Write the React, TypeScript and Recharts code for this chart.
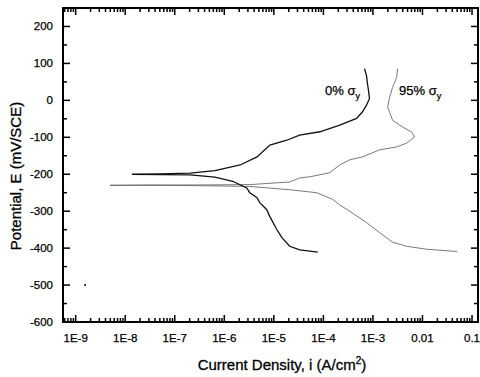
import React from 'react';
import { ComposedChart, Line, XAxis, YAxis } from 'recharts';

const FONT = "'Liberation Sans', Arial, Helvetica, sans-serif";

// 0% sigma_y curve: cathodic end -> corrosion potential -> anodic top (A/cm^2, mV/SCE)
const current0 = [
  7.67e-5, 3.33e-5, 2.09e-5, 1.44e-5, 1.14e-5, 8.26e-6, 7.19e-6, 5.2e-6, 4.52e-6, 3.27e-6,
  2.84e-6, 1.48e-6, 6.46e-7, 2.04e-7, 5.0e-8, 1.36e-8,
  5.0e-8, 2.04e-7, 6.46e-7, 2.09e-6, 4.57e-6, 8.32e-6, 1.82e-5, 3.31e-5, 8.51e-5, 2.14e-4,
  4.68e-4, 6.17e-4, 7.41e-4, 8.51e-4, 8.13e-4, 7.76e-4, 7.41e-4, 6.76e-4,
];
const potential0 = [
  -411, -405, -395, -371, -349, -314, -296, -277, -263, -250,
  -237, -219, -208, -202, -201, -200,
  -199, -197, -190, -175, -153, -121, -108, -94, -85, -67,
  -49, -31, -13, 5, 27, 45, 67, 86,
];

// 95% sigma_y curve
const current95 = [
  0.051, 0.0488, 0.0121, 4.77e-3, 2.49e-3, 1.36e-3, 7.46e-4, 3.39e-4, 2.13e-4, 1.54e-4,
  7.33e-5, 2.09e-5, 3.27e-6, 3.24e-7, 3.16e-8, 4.94e-9,
  3.16e-8, 3.24e-7, 3.31e-6, 2.09e-5, 3.33e-5, 5.3e-5, 1.34e-4, 2.13e-4, 3.39e-4, 6.19e-4,
  1.36e-3, 3.01e-3, 4.77e-3, 6.92e-3, 6.03e-3, 3.97e-3, 2.49e-3, 2.17e-3, 1.98e-3, 2.17e-3,
  2.49e-3, 3.01e-3, 3.15e-3,
];
const potential95 = [
  -411, -409, -403, -395, -384, -358, -331, -300, -283, -268,
  -250, -242, -233, -231, -230, -230,
  -229, -229, -228, -221, -210, -207, -196, -175, -161, -153,
  -134, -126, -116, -99, -86, -72, -54, -32, -18, 8,
  35, 62, 86,
];

// stray point near the left axis
const strayCurrent = [1.55e-9];
const strayPotential = [-500];

const xMajorTicks = [1e-9, 1e-8, 1e-7, 1e-6, 1e-5, 1e-4, 1e-3, 1e-2, 1e-1];
const xTickLabels = ['1E-9', '1E-8', '1E-7', '1E-6', '1E-5', '1E-4', '1E-3', '0.01', '0.1'];
const yMajorTicks = [-600, -500, -400, -300, -200, -100, 0, 100, 200];
const yMinorTicks = [-550, -450, -350, -250, -150, -50, 50, 150];

const xDomain: [number, number] = [5.55e-10, 0.132];
const yDomain: [number, number] = [-600, 250];

const toPoints = (xs: number[], ys: number[]) => xs.map((v, k) => ({ i: v, E: ys[k] }));
const data0 = toPoints(current0, potential0);
const data95 = toPoints(current95, potential95);
const strayData = toPoints(strayCurrent, strayPotential);

const xMinorTicks: number[] = [];
for (let d = -10; d <= -1; d++) {
  for (let m = 2; m <= 9; m++) {
    const v = m * Math.pow(10, d);
    if (v > xDomain[0] && v < xDomain[1]) xMinorTicks.push(v);
  }
}

// plot box (pixels) – matches the chart margins/axis sizes below
const PL = 63;
const PR = 478;
const PT = 8;
const PB = 322;
const xPix = (v: number) =>
  PL + ((Math.log10(v) - Math.log10(xDomain[0])) / Math.log10(xDomain[1] / xDomain[0])) * (PR - PL);
const yPix = (v: number) => PB - ((v - yDomain[0]) / (yDomain[1] - yDomain[0])) * (PB - PT);

const MAJ = 7;
const MIN = 4;
const TW = 1.5;

const majorIndex = (v: number) =>
  xMajorTicks.findIndex((t) => Math.abs(Math.log10(t) - Math.log10(v)) < 1e-6);

const BottomLabel = (props: any) => {
  const x = Number(props.x);
  const y = Number(props.y);
  const idx = majorIndex(props.payload.value);
  if (idx < 0) return <g />;
  return (
    <text x={x} y={y + 18} textAnchor="middle" fontFamily={FONT} fontSize={11.5} fill="#000" stroke="#000" strokeWidth={0.25}>
      {xTickLabels[idx]}
    </text>
  );
};

const LeftLabel = (props: any) => {
  const x = Number(props.x);
  const y = Number(props.y);
  return (
    <text x={x - 8} y={y + 4} textAnchor="end" fontFamily={FONT} fontSize={11.5} fill="#000" stroke="#000" strokeWidth={0.25}>
      {props.payload.value}
    </text>
  );
};

const textStyle = { fontFamily: FONT, fill: '#000', stroke: '#000' };

export default function App() {
  const xMarks = [
    ...xMajorTicks.map((v) => ({ v, len: MAJ })),
    ...xMinorTicks.map((v) => ({ v, len: MIN })),
  ];
  const yMarks = [
    ...yMajorTicks.map((v) => ({ v, len: MAJ })),
    ...yMinorTicks.map((v) => ({ v, len: MIN })),
  ];
  return (
    <div style={{ position: 'absolute', left: 0, top: 0, width: 480, height: 377 }}>
      <ComposedChart width={480} height={377} margin={{ top: PT, right: 480 - PR, bottom: 0, left: 0 }}>
        <XAxis
          xAxisId="main"
          dataKey="i"
          type="number"
          scale="log"
          domain={xDomain}
          allowDataOverflow
          ticks={xMajorTicks}
          interval={0}
          tickSize={0}
          tickLine={false}
          tick={<BottomLabel />}
          axisLine={false}
          height={377 - PB}
        />
        <YAxis
          yAxisId="main"
          dataKey="E"
          type="number"
          domain={yDomain}
          allowDataOverflow
          ticks={yMajorTicks}
          interval={0}
          tickSize={0}
          tickLine={false}
          tick={<LeftLabel />}
          axisLine={false}
          width={PL}
        />
        <Line
          xAxisId="main"
          yAxisId="main"
          data={data95}
          dataKey="E"
          type="linear"
          stroke="#6a6a6a"
          strokeWidth={0.9}
          dot={false}
          activeDot={false}
          isAnimationActive={false}
        />
        <Line
          xAxisId="main"
          yAxisId="main"
          data={data0}
          dataKey="E"
          type="linear"
          stroke="#111"
          strokeWidth={1.3}
          dot={false}
          activeDot={false}
          isAnimationActive={false}
        />
        <Line
          xAxisId="main"
          yAxisId="main"
          data={strayData}
          dataKey="E"
          stroke="none"
          dot={{ r: 1, fill: '#000', stroke: 'none' }}
          activeDot={false}
          isAnimationActive={false}
        />
      </ComposedChart>
      <svg
        width={480}
        height={377}
        style={{ position: 'absolute', left: 0, top: 0, pointerEvents: 'none' }}
      >
        <rect x={PL} y={PT} width={PR - PL} height={PB - PT} fill="none" stroke="#000" strokeWidth={2} />
        {xMarks.map(({ v, len }, k) => (
          <g key={`x${k}`}>
            <line x1={xPix(v)} x2={xPix(v)} y1={PB} y2={PB - len} stroke="#000" strokeWidth={TW} />
            <line x1={xPix(v)} x2={xPix(v)} y1={PT} y2={PT + len} stroke="#000" strokeWidth={TW} />
          </g>
        ))}
        {yMarks.map(({ v, len }, k) => (
          <g key={`y${k}`}>
            <line x1={PL} x2={PL + len} y1={yPix(v)} y2={yPix(v)} stroke="#000" strokeWidth={TW} />
            <line x1={PR} x2={PR - len} y1={yPix(v)} y2={yPix(v)} stroke="#000" strokeWidth={TW} />
          </g>
        ))}
        <text x={282} y={370} textAnchor="middle" fontSize={15} strokeWidth={0.3} {...textStyle}>
          Current Density, i (A/cm
          <tspan dy={-6} fontSize={10}>2</tspan>
          <tspan dy={6}>)</tspan>
        </text>
        <text x={21} y={176} transform="rotate(-90 21 176)" textAnchor="middle" fontSize={15} strokeWidth={0.3} {...textStyle}>
          Potential, E (mV/SCE)
        </text>
        <text x={325} y={95} fontSize={13} strokeWidth={0.25} {...textStyle}>
          0% σ<tspan dy={4} fontSize={9}>y</tspan>
        </text>
        <text x={399} y={95} fontSize={13} strokeWidth={0.25} {...textStyle}>
          95% σ<tspan dy={4} fontSize={9}>y</tspan>
        </text>
      </svg>
    </div>
  );
}
